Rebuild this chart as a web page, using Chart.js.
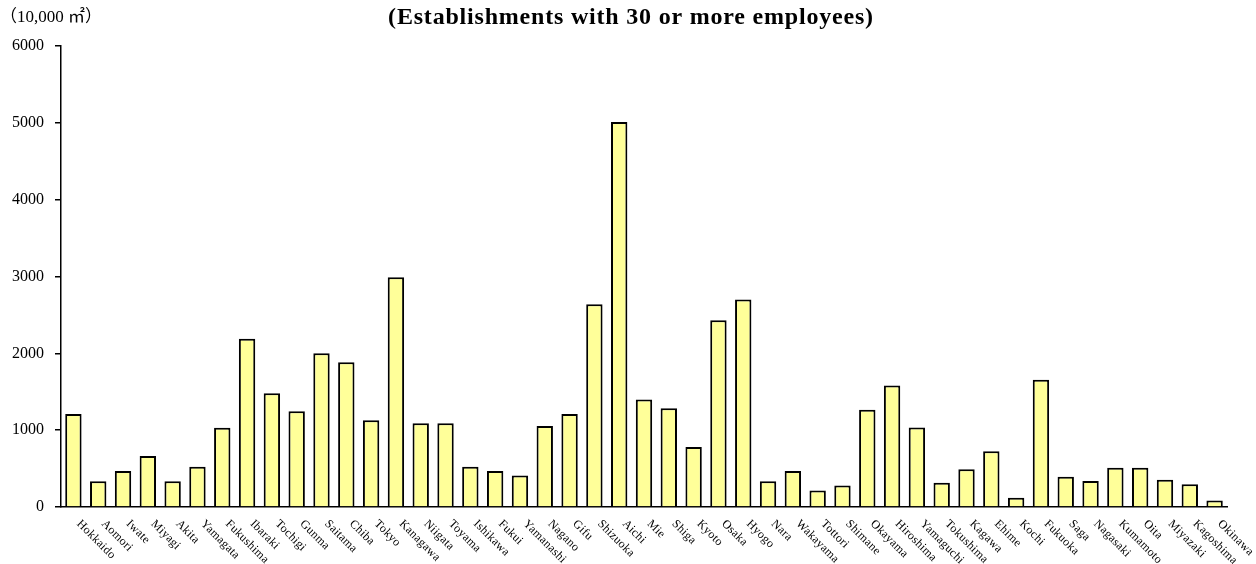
<!DOCTYPE html>
<html>
<head>
<meta charset="utf-8">
<script src="https://cdn.jsdelivr.net/npm/chart.js@4/dist/chart.umd.min.js"></script>
<style>
  html, body { margin: 0; padding: 0; background: #fff; }
  canvas { display: block; }
</style>
</head>
<body>
<canvas id="c" width="1256" height="564"></canvas>
<script>
// Prefectures, north to south
const prefectures = [
  "Hokkaido", "Aomori", "Iwate", "Miyagi", "Akita", "Yamagata", "Fukushima",
  "Ibaraki", "Tochigi", "Gunma", "Saitama", "Chiba", "Tokyo", "Kanagawa",
  "Niigata", "Toyama", "Ishikawa", "Fukui", "Yamanashi", "Nagano", "Gifu",
  "Shizuoka", "Aichi", "Mie", "Shiga", "Kyoto", "Osaka", "Hyogo", "Nara",
  "Wakayama", "Tottori", "Shimane", "Okayama", "Hiroshima", "Yamaguchi",
  "Tokushima", "Kagawa", "Ehime", "Kochi", "Fukuoka", "Saga", "Nagasaki",
  "Kumamoto", "Oita", "Miyazaki", "Kagoshima", "Okinawa"
];

// Site area, unit: 10,000 m²
const siteArea = [
  1210, 335, 470, 665, 335, 525, 1030,
  2190, 1480, 1245, 2000, 1885, 1130, 2990,
  1090, 1090, 525, 470, 410, 1055, 1210,
  2640, 5010, 1400, 1285, 780, 2430, 2700, 335,
  470, 215, 280, 1265, 1580, 1035,
  315, 490, 725, 120, 1655, 395, 340,
  510, 510, 355, 295, 85
];

const yTicks = [0, 1000, 2000, 3000, 4000, 5000, 6000];

const titleText = "(Establishments with 30 or more employees)";
const unitText = "（10,000 ㎡）";

const serif = '"Liberation Serif", "Times New Roman", serif';

// Title, unit note and slanted category names
const annotate = {
  id: "annotate",
  afterDraw(chart) {
    const ctx = chart.ctx;
    const xs = chart.scales.x;
    ctx.save();
    ctx.fillStyle = "#000";

    ctx.font = "bold 24px " + serif;
    ctx.letterSpacing = "0.8px";
    ctx.textAlign = "center";
    ctx.textBaseline = "middle";
    ctx.fillText(titleText, 631, 18);

    ctx.letterSpacing = "0px";
    ctx.font = '17px "Liberation Serif", "Noto Sans CJK JP", serif';
    ctx.textAlign = "left";
    ctx.fillText(unitText, 0, 18);

    ctx.font = "12px " + serif;
    ctx.letterSpacing = "0.3px";
    ctx.textAlign = "left";
    ctx.textBaseline = "middle";
    prefectures.forEach((name, i) => {
      const x = xs.getPixelForValue(i);
      ctx.save();
      ctx.translate(x + 5, 522);
      ctx.rotate(Math.PI / 4);
      ctx.fillText(name, 0, 0);
      ctx.restore();
    });
    ctx.restore();
  }
};

new Chart(document.getElementById("c"), {
  type: "bar",
  data: {
    labels: prefectures,
    datasets: [{
      data: siteArea,
      backgroundColor: "#FFFF99",
      borderColor: "#000",
      borderWidth: 2,
      barPercentage: 0.66,
      categoryPercentage: 1.0
    }]
  },
  options: {
    responsive: false,
    animation: false,
    devicePixelRatio: 1,
    layout: { padding: { top: 46, right: 29, left: 0, bottom: 0 } },
    plugins: {
      legend: { display: false },
      title: { display: false },
      tooltip: { enabled: false }
    },
    scales: {
      x: {
        grid: { display: false },
        border: { display: true, color: "#000", width: 1.5 },
        ticks: { display: false },
        afterFit(scale) { scale.height = 57; }
      },
      y: {
        min: 0,
        max: 6000,
        afterBuildTicks(scale) { scale.ticks = yTicks.map(v => ({ value: v })); },
        grid: { drawOnChartArea: false, drawTicks: true, tickLength: 6, color: "#000", lineWidth: 1.5 },
        border: { display: true, color: "#000", width: 1.5 },
        ticks: {
          color: "#000",
          padding: 11,
          font: { family: serif, size: 16 },
          callback: (v) => String(v)
        },
        afterFit(scale) { scale.width = 61; }
      }
    }
  },
  plugins: [annotate]
});
</script>
</body>
</html>
